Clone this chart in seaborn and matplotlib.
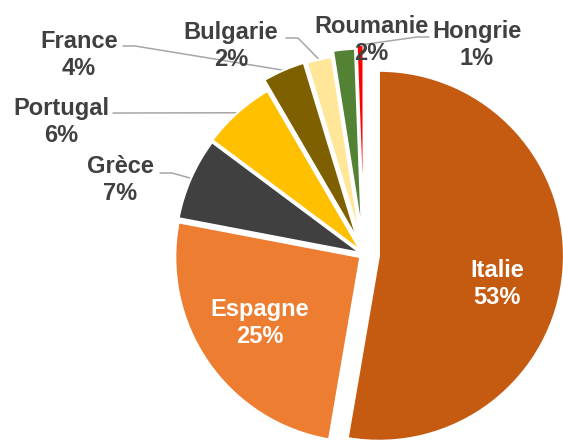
import matplotlib
matplotlib.use("Agg")
import matplotlib.pyplot as plt
import seaborn as sns
import numpy as np

# Data
countries = ["Italie", "Espagne", "Grèce", "Portugal", "France", "Bulgarie", "Roumanie", "Hongrie"]
shares = [52.7, 25.3, 7.2, 6.4, 3.7, 2.2, 1.9, 0.6]
colors = ["#C55A11", "#ED7D31", "#404040", "#FFC000", "#7F6000", "#FFE699", "#548235", "#FF0000"]

sns.set_theme(style="white")
plt.rcParams["font.family"] = ["Liberation Sans", "DejaVu Sans"]

W, H = 563, 440
fig = plt.figure(figsize=(W / 100, H / 100), dpi=100)
ax = fig.add_axes([0, 0, 1, 1])

# pixel units: explode offsets and radius
explode = [15, 4.5, 4, 5, 16, 15, 21, 24.5]
wedges, _ = ax.pie(shares, colors=colors, startangle=90, counterclock=False,
                   explode=explode, radius=185, center=(364, H - 254.5),
                   wedgeprops=dict(edgecolor="white", linewidth=1.5), frame=True)
ax.set_xlim(0, W)
ax.set_ylim(0, H)
ax.set_aspect("equal")
ax.axis("off")

total = sum(shares)
labels = [f"{c}\n{round(s / total * 100):.0f}%" for c, s in zip(countries, shares)]

# label centres (px, from top) and leader start/elbow
label_pos = [(497, 284), (260, 323), (120, 180), (61, 122), (79, 55), (231, 46), (371, 40), (477, 45)]
leaders = [None, None, [(160, 173), (172, 173)], [(113, 113), (122, 113)],
           [(123, 46), (135, 46)], [(286, 38), (298, 38)], None, [(429, 37), (417, 37)]]

for i, (w, lab) in enumerate(zip(wedges, labels)):
    inside = i < 2
    x, y = label_pos[i]
    ax.text(x, H - y, lab, ha="center", va="center", fontsize=17, fontweight="bold",
            color="white" if inside else "#404040", linespacing=1.2)
    if leaders[i] is not None:
        tm = np.deg2rad((w.theta1 + w.theta2) / 2)
        ex = w.center[0] + w.r * np.cos(tm)
        ey = w.center[1] + w.r * np.sin(tm)
        pts = [(px, H - py) for px, py in leaders[i]] + [(ex, ey)]
        ax.plot([p[0] for p in pts], [p[1] for p in pts], color="#A6A6A6", lw=1.1, zorder=0.5)

fig.savefig("out.png", dpi=100)
